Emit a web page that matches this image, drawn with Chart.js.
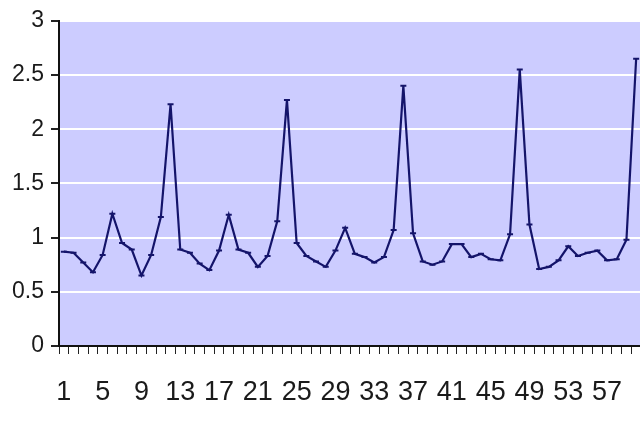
<!DOCTYPE html>
<html>
<head>
<meta charset="utf-8">
<script src="https://cdn.jsdelivr.net/npm/chart.js@4/dist/chart.umd.min.js"></script>
<style>
  html, body { margin: 0; padding: 0; background: #ffffff; overflow: hidden; }
  #myChart { position: absolute; left: 0; top: 0; }
</style>
</head>
<body>
<canvas id="myChart" width="660" height="426"></canvas>
<script>
// Categories 1..60
const labels = [
    '1', '2', '3', '4', '5', '6', '7', '8', '9', '10',
    '11', '12', '13', '14', '15', '16', '17', '18', '19', '20',
    '21', '22', '23', '24', '25', '26', '27', '28', '29', '30',
    '31', '32', '33', '34', '35', '36', '37', '38', '39', '40',
    '41', '42', '43', '44', '45', '46', '47', '48', '49', '50',
    '51', '52', '53', '54', '55', '56', '57', '58', '59', '60'
];
// Series values
const values = [
    0.87, 0.86, 0.77, 0.68, 0.84, 1.22, 0.95, 0.89, 0.65, 0.84,
    1.19, 2.23, 0.89, 0.86, 0.76, 0.70, 0.88, 1.21, 0.89, 0.86,
    0.73, 0.83, 1.15, 2.27, 0.95, 0.83, 0.78, 0.73, 0.88, 1.09,
    0.85, 0.82, 0.77, 0.82, 1.07, 2.40, 1.04, 0.78, 0.75, 0.78,
    0.94, 0.94, 0.82, 0.85, 0.80, 0.79, 1.03, 2.55, 1.12, 0.71,
    0.73, 0.79, 0.92, 0.83, 0.86, 0.88, 0.79, 0.80, 0.98, 2.65
];
// Only every 4th category gets a label
const shownLabels = ['1', '5', '9', '13', '17', '21', '25', '29', '33', '37', '41', '45', '49', '53', '57'];
const yTicks = [0, 0.5, 1, 1.5, 2, 2.5, 3];

// Fill the plot area with lavender
const plotBackground = {
    id: 'plotBackground',
    beforeDraw: function (chart) {
        const a = chart.chartArea;
        const ctx = chart.ctx;
        ctx.save();
        ctx.fillStyle = '#ccccff';
        ctx.fillRect(a.left, a.top, a.right - a.left, a.bottom - a.top);
        ctx.restore();
    }
};

const data = {
    labels: labels,
    datasets: [{
        data: values,
        borderColor: '#14146a',
        borderWidth: 2.2,
        tension: 0,
        pointStyle: 'line',
        pointRadius: 3,
        pointBorderWidth: 2,
        pointBorderColor: '#14146a',
        pointBackgroundColor: '#14146a'
    }]
};

const config = {
    type: 'line',
    data: data,
    plugins: [plotBackground],
    options: {
        responsive: false,
        animation: false,
        layout: { padding: { left: 0, top: 12, right: 19, bottom: 0 } },
        plugins: { legend: { display: false }, tooltip: { enabled: false } },
        scales: {
            x: {
                offset: true,
                afterFit: function (scale) { scale.height = 80; },
                grid: { offset: true, drawOnChartArea: false, tickColor: '#222', tickLength: 8, tickWidth: 1 },
                border: { color: '#111', width: 2 },
                ticks: {
                    autoSkip: false,
                    maxRotation: 0,
                    padding: 22,
                    color: '#1a1a1a',
                    font: { family: 'Liberation Sans, Arial, sans-serif', size: 27 },
                    callback: function (v, i) {
                        const l = labels[i];
                        return shownLabels.indexOf(l) >= 0 ? l : '';
                    }
                }
            },
            y: {
                min: 0,
                max: 3,
                afterFit: function (scale) { scale.width = 59; },
                afterBuildTicks: function (axis) {
                    axis.ticks = yTicks.map(function (v) { return { value: v }; });
                },
                grid: { color: '#ffffff', lineWidth: 2, tickColor: '#222', tickLength: 8 },
                border: { color: '#111', width: 2 },
                ticks: {
                    padding: 7,
                    color: '#1a1a1a',
                    font: { family: 'Liberation Sans, Arial, sans-serif', size: 23 },
                    callback: function (v) { return String(v); }
                }
            }
        }
    }
};

const myChart = new Chart(document.getElementById('myChart'), config);
</script>
</body>
</html>
